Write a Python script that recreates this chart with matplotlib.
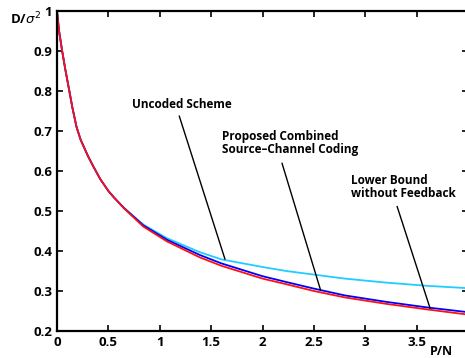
import matplotlib
matplotlib.use("Agg")
import matplotlib.pyplot as plt
from matplotlib.ticker import FuncFormatter

# values
snr = [0, 0.02, 0.05, 0.08, 0.12, 0.15, 0.19, 0.23, 0.30, 0.35, 0.42, 0.50,
       0.55, 0.65, 0.84, 1.07, 1.39, 1.6, 2.0, 2.23, 2.5, 2.8, 3.2, 3.6, 4.0]
lower_bound = [1.0, 0.95, 0.9, 0.855, 0.8, 0.758, 0.71, 0.678, 0.638, 0.613, 0.58, 0.55,
               0.535, 0.507, 0.461, 0.424, 0.384, 0.363, 0.331, 0.317, 0.300, 0.284, 0.268, 0.254, 0.241]
proposed = [1.0, 0.95, 0.9, 0.855, 0.8, 0.758, 0.71, 0.678, 0.638, 0.613, 0.58, 0.55,
            0.535, 0.508, 0.464, 0.428, 0.390, 0.369, 0.337, 0.3225, 0.306, 0.289, 0.273, 0.259, 0.247]
uncoded = [1.0, 0.95, 0.9, 0.855, 0.8, 0.758, 0.71, 0.678, 0.638, 0.613, 0.58, 0.55,
           0.535, 0.508, 0.466, 0.432, 0.397, 0.379, 0.360, 0.350, 0.341, 0.331, 0.321, 0.313, 0.307]

x_ticks = [0, 0.5, 1, 1.5, 2, 2.5, 3, 3.5]
y_ticks = [0.2, 0.3, 0.4, 0.5, 0.6, 0.7, 0.8, 0.9, 1.0]

# label text, text anchor (data), line start (data), line end (data)
notes = [
    ("Uncoded Scheme", (0.73, 0.75), (1.19, 0.737), (1.634, 0.38)),
    ("Proposed Combined\nSource\u2013Channel Coding", (1.61, 0.637), (2.19, 0.619), (2.565, 0.302)),
    ("Lower Bound\nwithout Feedback", (2.86, 0.527), (3.31, 0.511), (3.63, 0.257)),
]

plt.rcParams['font.family'] = ['Open Sans', 'DejaVu Sans']

fig = plt.figure(figsize=(4.65, 3.58), dpi=100)
ax = fig.add_axes([0.1226, 0.0754, 0.884, 0.894])

ax.plot(snr, uncoded, color='#22ccff', lw=1.3)
ax.plot(snr, proposed, color='#0000ff', lw=1.3)
ax.plot(snr, lower_bound, color='#ff1010', lw=1.3)

ax.set_xlim(0, 4.0)
ax.set_ylim(0.2, 1.0)
ax.set_xticks(x_ticks)
ax.set_yticks(y_ticks)
ax.xaxis.set_major_formatter(FuncFormatter(lambda v, p: '%g' % v))
ax.yaxis.set_major_formatter(FuncFormatter(lambda v, p: '%g' % v))
ax.tick_params(direction='in', length=4, width=1.2, top=True, right=True,
               labelsize=9.5)
for lab in ax.get_xticklabels() + ax.get_yticklabels():
    lab.set_fontweight('bold')
for s in ax.spines.values():
    s.set_linewidth(1.6)

for label, txt_pos, start, end in notes:
    ax.text(txt_pos[0], txt_pos[1], label, fontsize=8.5, fontweight='bold',
            ha='left', va='bottom', linespacing=1.0)
    ax.plot([start[0], end[0]], [start[1], end[1]], color='black', lw=1.0)

fig.text(0.022, 0.932, r'D/$\sigma^2$', fontsize=9.5, fontweight='bold')
fig.text(0.925, 0.008, 'P/N', fontsize=9, fontweight='bold')

fig.savefig('out.png', dpi=100)
